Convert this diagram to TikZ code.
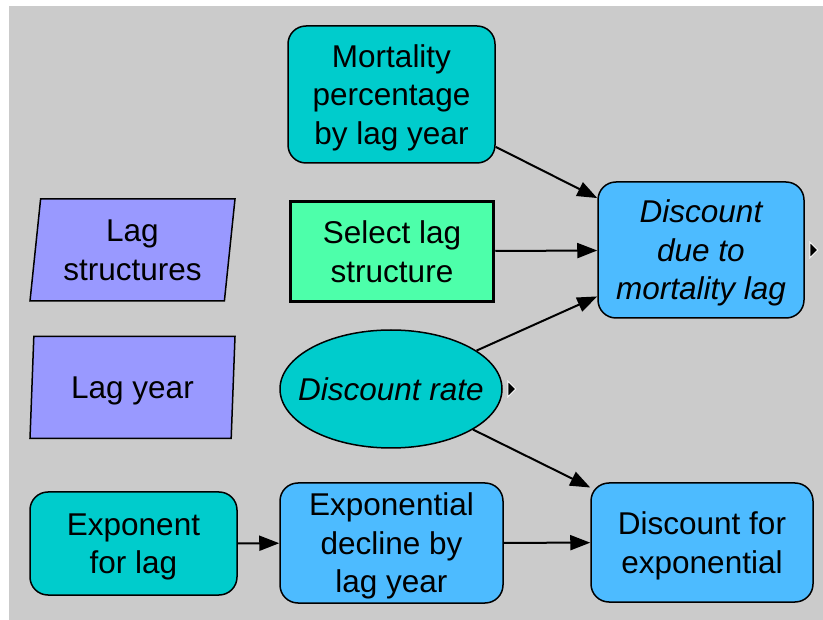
\documentclass[tikz,border=0pt]{standalone}
\usepackage{fontspec}
\setmainfont{Liberation Sans}
\usetikzlibrary{shapes, arrows.meta}
\definecolor{MyTeal}{HTML}{00CCCC}
\definecolor{MyBlue}{HTML}{4DBBFF}
\definecolor{MyGreen}{HTML}{4DFFAA}
\definecolor{MyPurple}{HTML}{9999FF}
\definecolor{MyGray}{HTML}{CBCBCB}

\begin{document}
\begin{tikzpicture} [
			x=1pt, y=-1pt, >={Triangle[length=20pt,width=15pt]},
			every node/.style={draw,font=\fontsize{31.5}{38.5}\selectfont,align=center,line width=1.5pt,inner sep=0pt,text depth=0pt},
			const/.style={rectangle,rounded corners=18pt,fill=MyTeal,minimum width=207pt,minimum height=103pt},
			objective/.style={rectangle,rounded corners=18pt,fill=MyBlue,minimum width=206pt,minimum height=136pt},
			decision/.style={rectangle,line width=3.5pt,fill=MyGreen,minimum width=203pt,minimum height=100pt},
			index/.style={trapezium,trapezium left angle=80,trapezium right angle=100,trapezium stretches body,fill=MyPurple,minimum width=205pt,minimum height=102pt},
			chance/.style={ellipse,fill=MyTeal,inner xsep=-25pt,minimum width=222pt,minimum height=118pt},
			link/.style={->,line width=2pt},
			outport/.style={fill=black,draw=white,line width=1pt}
		]
			\useasboundingbox (0,0) rectangle (823,620);
			\fill[MyGray] (9,6) rectangle (823,620);
			\node at (391.5,94.5) [const,minimum height=137pt] (nodeMortality) {Mortality\\percentage\\by lag year};
			\node at (392,251.5) [decision] (nodeSelect) {Select lag\\structure};
			\node at (701,250) [objective,font=\fontsize{31.5}{38.5}\selectfont\itshape] (nodeDiscDue) {Discount\\due to\\mortality lag};
			\node at (132.5,250) [index] (nodeLagStruct) {Lag\\structures};
			\node at (132.5,387.5) [index] (nodeLagYear) {Lag year};
			\node at (391,389) [chance,font=\fontsize{31.5}{38.5}\selectfont\itshape] (nodeDiscRate) {Discount rate};
			\node at (133.5,543.5) [const] (nodeExponent) {Exponent\\for lag};
			\node at (391.5,543) [objective,minimum width=223pt,minimum height=120pt] (nodeExpDecline) {Exponential\\decline by\\lag year};
			\node at (702,542.5) [objective,minimum width=222pt,minimum height=119pt] (nodeDiscExp) {Discount for\\exponential};
			% arrows
			\path[link] (nodeMortality) edge (nodeDiscDue);
			\path[link] (nodeSelect) edge (nodeDiscDue);
			\path[link] (nodeDiscRate) edge (nodeDiscDue);
			\path[link] (nodeDiscRate) edge (nodeDiscExp);
			\path[link] (nodeExponent) edge (nodeExpDecline);
			\path[link] (nodeExpDecline) edge (nodeDiscExp);
			% output ports
			\path[outport] ([xshift=5pt]nodeDiscDue.east) ++(0,-8) -- ++(8,8) -- ++(-8,8) -- cycle;
			\path[outport] ([xshift=5pt]nodeDiscRate.east) ++(0,-8) -- ++(8,8) -- ++(-8,8) -- cycle;
		\end{tikzpicture}
\end{document}
